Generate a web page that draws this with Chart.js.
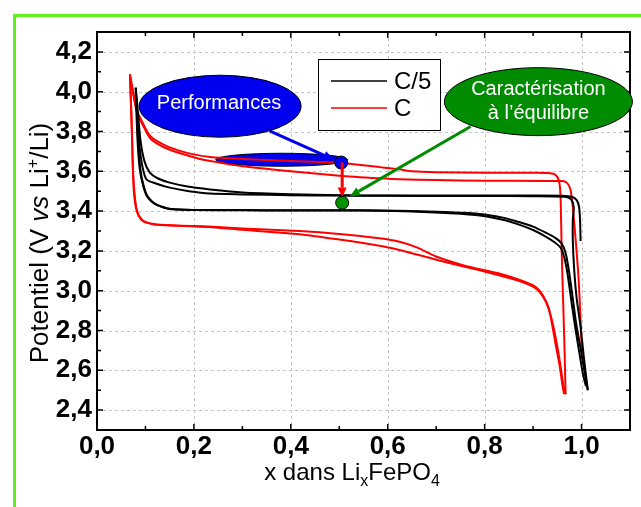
<!DOCTYPE html>
<html>
<head>
<meta charset="utf-8">
<script src="https://cdn.jsdelivr.net/npm/chart.js@4.4.0/dist/chart.umd.min.js"></script>
<style>
html, body { margin: 0; padding: 0; background: #fff; }
canvas { display: block; }
</style>
</head>
<body>
<canvas id="cv" width="641" height="507"></canvas>
<script>
// axes
var xTicks = [0, 0.2, 0.4, 0.6, 0.8, 1.0];
var yTicks = [2.4, 2.6, 2.8, 3.0, 3.2, 3.4, 3.6, 3.8, 4.0, 4.2];
var seriesNames = ['C/5', 'C'];
var seriesColors = ['#000000', '#ff0000'];

// C/5 : decharges puis charges  [x, V]
var c5Discharge1 = [[0.080,4.02],[0.082,3.85],[0.085,3.70],[0.089,3.60],[0.095,3.53],[0.102,3.48],[0.112,3.45],[0.123,3.432],[0.15,3.412],[0.2,3.406],[0.3,3.405],[0.4,3.404],[0.5,3.404],[0.583,3.403],[0.65,3.40],[0.72,3.395],[0.79,3.386],[0.84,3.366],[0.871,3.345],[0.9,3.322],[0.926,3.292],[0.945,3.267],[0.958,3.24],[0.967,3.19],[0.974,3.10],[0.982,2.96],[0.988,2.85],[0.995,2.75],[1.001,2.67],[1.007,2.58],[1.013,2.50]];
var c5Discharge2 = [[0.080,4.02],[0.083,3.85],[0.086,3.70],[0.090,3.60],[0.096,3.53],[0.103,3.48],[0.113,3.45],[0.125,3.43],[0.15,3.41],[0.2,3.405],[0.3,3.404],[0.4,3.403],[0.5,3.403],[0.583,3.402],[0.65,3.398],[0.72,3.39],[0.79,3.378],[0.84,3.355],[0.871,3.332],[0.9,3.305],[0.926,3.272],[0.945,3.242],[0.958,3.212],[0.966,3.15],[0.972,3.07],[0.98,2.93],[0.988,2.80],[0.996,2.68],[1.003,2.58],[1.009,2.52]];
var c5Charge1 = [[0.998,3.25],[0.997,3.35],[0.995,3.42],[0.99,3.455],[0.98,3.472],[0.96,3.477],[0.9,3.478],[0.8,3.478],[0.7,3.478],[0.6,3.478],[0.5,3.48],[0.4,3.485],[0.3,3.494],[0.233,3.509],[0.19,3.522],[0.15,3.543],[0.125,3.565],[0.109,3.593],[0.098,3.65],[0.09,3.75],[0.085,3.88],[0.080,4.02]];
var c5Charge2 = [[1.013,2.50],[1.005,2.66],[0.998,2.82],[0.99,2.96],[0.985,3.10],[0.982,3.25],[0.982,3.36],[0.984,3.42],[0.978,3.46],[0.965,3.472],[0.9,3.475],[0.8,3.476],[0.7,3.476],[0.6,3.477],[0.5,3.478],[0.4,3.48],[0.3,3.484],[0.233,3.488],[0.19,3.50],[0.15,3.518],[0.12,3.54],[0.102,3.56],[0.094,3.62],[0.088,3.72],[0.084,3.86],[0.080,4.0]];

// C : decharges puis charges
var cDischarge1 = [[0.068,4.088],[0.070,3.95],[0.072,3.80],[0.074,3.62],[0.076,3.50],[0.080,3.42],[0.086,3.375],[0.095,3.35],[0.11,3.338],[0.123,3.333],[0.17,3.327],[0.23,3.322],[0.3,3.313],[0.418,3.3],[0.5,3.285],[0.583,3.263],[0.624,3.246],[0.66,3.218],[0.7,3.172],[0.75,3.132],[0.79,3.108],[0.83,3.086],[0.87,3.056],[0.905,3.02],[0.922,2.97],[0.933,2.905],[0.946,2.737],[0.955,2.62],[0.96,2.535],[0.964,2.48]];
var cDischarge2 = [[0.068,4.08],[0.070,3.95],[0.072,3.80],[0.074,3.62],[0.077,3.50],[0.081,3.42],[0.087,3.375],[0.096,3.35],[0.11,3.337],[0.123,3.332],[0.17,3.326],[0.23,3.32],[0.3,3.306],[0.418,3.284],[0.5,3.257],[0.583,3.226],[0.624,3.205],[0.66,3.182],[0.706,3.152],[0.79,3.102],[0.87,3.05],[0.905,3.012],[0.925,2.95],[0.938,2.86],[0.95,2.72],[0.958,2.60],[0.962,2.53],[0.967,2.48]];
var cCharge1 = [[0.967,2.48],[0.965,2.70],[0.962,2.95],[0.959,3.20],[0.957,3.45],[0.955,3.53],[0.95,3.572],[0.94,3.589],[0.9,3.593],[0.8,3.593],[0.7,3.595],[0.65,3.60],[0.624,3.61],[0.583,3.621],[0.5,3.643],[0.4,3.652],[0.3,3.662],[0.233,3.672],[0.19,3.69],[0.15,3.72],[0.125,3.75],[0.109,3.78],[0.095,3.84],[0.082,3.91],[0.068,4.088]];
var cCharge2 = [[1.001,2.656],[0.998,2.85],[0.994,3.056],[0.988,3.25],[0.982,3.42],[0.977,3.51],[0.97,3.542],[0.96,3.551],[0.8,3.553],[0.7,3.556],[0.624,3.56],[0.583,3.565],[0.5,3.578],[0.4,3.60],[0.3,3.625],[0.233,3.652],[0.212,3.662],[0.15,3.708],[0.125,3.738],[0.109,3.768],[0.095,3.83],[0.082,3.90],[0.068,4.08]];

var FONT = "'Liberation Sans', Arial, sans-serif";

function pts(a) { return a.map(function (p) { return {x: p[0], y: p[1]}; }); }
function fmt(v) { return v.toFixed(1).replace('.', ','); }
function ds(data, i) {
  return {label: seriesNames[i], data: pts(data), showLine: true, borderColor: seriesColors[i],
    borderWidth: 2, pointRadius: 0, tension: 0.25, fill: false};
}

function arrow(ctx, x1, y1, x2, y2, color) {
  var a = Math.atan2(y2 - y1, x2 - x1), L = 10, W = 4.5;
  ctx.strokeStyle = color; ctx.fillStyle = color; ctx.lineWidth = 3;
  ctx.beginPath(); ctx.moveTo(x1, y1);
  ctx.lineTo(x2 - L * Math.cos(a), y2 - L * Math.sin(a)); ctx.stroke();
  ctx.beginPath(); ctx.moveTo(x2, y2);
  ctx.lineTo(x2 - L * Math.cos(a) + W * Math.sin(a), y2 - L * Math.sin(a) - W * Math.cos(a));
  ctx.lineTo(x2 - L * Math.cos(a) - W * Math.sin(a), y2 - L * Math.sin(a) + W * Math.cos(a));
  ctx.closePath(); ctx.fill();
}
function ellipse(ctx, cx, cy, rx, ry, fill) {
  ctx.beginPath(); ctx.ellipse(cx, cy, rx, ry, 0, 0, Math.PI * 2);
  ctx.fillStyle = fill; ctx.fill();
  ctx.lineWidth = 1; ctx.strokeStyle = '#000'; ctx.stroke();
}
function runs(ctx, parts, x, y) {
  parts.forEach(function (p) {
    ctx.font = p[1]; ctx.fillText(p[0], x, y + (p[2] || 0));
    x += ctx.measureText(p[0]).width;
  });
}
function runsWidth(ctx, parts) {
  var w = 0;
  parts.forEach(function (p) { ctx.font = p[1]; w += ctx.measureText(p[0]).width; });
  return w;
}

var decor = {
  id: 'decor',
  beforeDraw: function (chart) {
    var ctx = chart.ctx;
    ctx.save();
    ctx.fillStyle = '#fff'; ctx.fillRect(0, 0, chart.width, chart.height);
    ctx.fillStyle = '#5ef01c';
    ctx.fillRect(13, 14, 3, chart.height - 14);
    ctx.fillRect(13, 14, chart.width - 13, 3);
    ctx.restore();
  },
  beforeDatasetsDraw: function (chart) {
    var ctx = chart.ctx, a = chart.chartArea, sx = chart.scales.x, sy = chart.scales.y;
    ctx.save();
    ctx.strokeStyle = '#c4c4c4'; ctx.lineWidth = 1; ctx.setLineDash([3, 3]);
    xTicks.forEach(function (v) {
      var p = Math.round(sx.getPixelForValue(v)) + 0.5;
      ctx.beginPath(); ctx.moveTo(p, a.top); ctx.lineTo(p, a.bottom); ctx.stroke();
    });
    yTicks.forEach(function (v) {
      var p = Math.round(sy.getPixelForValue(v)) + 0.5;
      ctx.beginPath(); ctx.moveTo(a.left, p); ctx.lineTo(a.right, p); ctx.stroke();
    });
    ctx.setLineDash([]);
    // zone "Performances" sur le plateau de charge
    ellipse(ctx, sx.getPixelForValue(0.381), sy.getPixelForValue(3.658), 66, 6.5, '#0000ee');
    ctx.restore();
  },
  afterDatasetsDraw: function (chart) {
    var ctx = chart.ctx, a = chart.chartArea, sx = chart.scales.x, sy = chart.scales.y;
    ctx.save();
    // cadre et graduations intérieures
    ctx.strokeStyle = '#000'; ctx.lineWidth = 2;
    ctx.strokeRect(a.left, a.top, a.right - a.left, a.bottom - a.top);
    ctx.lineWidth = 1.5;
    for (var i = 0; i <= 11; i++) {
      var v = i / 10, px = sx.getPixelForValue(v), len = (i % 2 === 0) ? 6 : 4;
      ctx.beginPath();
      ctx.moveTo(px, a.bottom); ctx.lineTo(px, a.bottom - len);
      ctx.moveTo(px, a.top); ctx.lineTo(px, a.top + len);
      ctx.stroke();
    }
    for (var j = 23; j <= 43; j++) {
      var w = j / 10, py = sy.getPixelForValue(w), l2 = (j % 2 === 0) ? 6 : 4;
      ctx.beginPath();
      ctx.moveTo(a.left, py); ctx.lineTo(a.left + l2, py);
      ctx.moveTo(a.right, py); ctx.lineTo(a.right - l2, py);
      ctx.stroke();
    }

    // annotations
    var bx = sx.getPixelForValue(0.506);
    ellipse(ctx, sx.getPixelForValue(0.504), sy.getPixelForValue(3.644), 6.5, 6.5, '#0000ee');
    arrow(ctx, bx, sy.getPixelForValue(3.645), bx, sy.getPixelForValue(3.468), '#ff0000');
    ellipse(ctx, bx, sy.getPixelForValue(3.442), 6.5, 6.5, '#009000');
    arrow(ctx, sx.getPixelForValue(0.356), sy.getPixelForValue(3.803), sx.getPixelForValue(0.488), sy.getPixelForValue(3.66), '#0000ee');
    arrow(ctx, sx.getPixelForValue(0.771), sy.getPixelForValue(3.825), sx.getPixelForValue(0.522), sy.getPixelForValue(3.474), '#008c00');

    var pcx = sx.getPixelForValue(0.254), pcy = sy.getPixelForValue(3.927);
    ellipse(ctx, pcx, pcy, 81, 31, '#0000ee');
    var gcx = sx.getPixelForValue(0.911), gcy = sy.getPixelForValue(3.95);
    ellipse(ctx, gcx, gcy, 94, 34, '#008c00');
    ctx.fillStyle = '#fff'; ctx.textAlign = 'center'; ctx.textBaseline = 'middle';
    ctx.font = '20px ' + FONT;
    ctx.fillText('Performances', pcx - 1, pcy - 3);
    ctx.fillText('Caractérisation', gcx, gcy - 12);
    ctx.fillText('à l\u2019équilibre', gcx, gcy + 12);

    // légende
    ctx.fillStyle = '#fff'; ctx.fillRect(318.5, 59.5, 122, 71);
    ctx.strokeStyle = '#000'; ctx.lineWidth = 1; ctx.strokeRect(318.5, 59.5, 122, 71);
    ctx.textAlign = 'left'; ctx.font = '24px ' + FONT;
    seriesNames.forEach(function (n, k) {
      var yy = 81 + k * 27;
      ctx.strokeStyle = seriesColors[k]; ctx.lineWidth = 1.5;
      ctx.beginPath(); ctx.moveTo(331, yy); ctx.lineTo(387, yy); ctx.stroke();
      ctx.fillStyle = '#000'; ctx.fillText(n, 394, yy + 1);
    });

    // titres des axes
    ctx.fillStyle = '#000'; ctx.textBaseline = 'alphabetic';
    var nx = '24px ' + FONT, sxF = '16px ' + FONT;
    var xt = [['x dans Li', nx], ['x', sxF, 6], ['FePO', nx], ['4', sxF, 6]];
    runs(ctx, xt, 352 - runsWidth(ctx, xt) / 2, 480);
    var ny = '26px ' + FONT, sy2 = '16px ' + FONT;
    var yt = [['Potentiel (V ', ny], ['vs', 'italic 26px ' + FONT], [' Li', ny], ['+', sy2, -10], ['/Li)', ny]];
    ctx.translate(48, 243); ctx.rotate(-Math.PI / 2);
    runs(ctx, yt, -runsWidth(ctx, yt) / 2, 0);
    ctx.restore();
  }
};

var tickFont = {family: FONT, size: 26, weight: 'bold'};
new Chart(document.getElementById('cv'), {
  type: 'scatter',
  data: {
    datasets: [
      ds(c5Discharge1, 0), ds(c5Discharge2, 0), ds(c5Charge1, 0), ds(c5Charge2, 0),
      ds(cDischarge1, 1), ds(cDischarge2, 1), ds(cCharge1, 1), ds(cCharge2, 1)
    ]
  },
  options: {
    responsive: false,
    animation: false,
    devicePixelRatio: 1,
    layout: {padding: {left: 0, right: 11, top: 32, bottom: 0}},
    plugins: {legend: {display: false}, tooltip: {enabled: false}},
    scales: {
      x: {
        type: 'linear', min: 0, max: 1.1,
        afterFit: function (s) { s.height = 77; },
        afterBuildTicks: function (s) { s.ticks = xTicks.map(function (v) { return {value: v}; }); },
        grid: {display: false, drawTicks: false}, border: {display: false},
        ticks: {font: tickFont, color: '#000', padding: 1, maxRotation: 0, autoSkip: false,
          callback: function (v) { return fmt(v); }}
      },
      y: {
        type: 'linear', min: 2.3, max: 4.3,
        afterFit: function (s) { s.width = 97; },
        afterBuildTicks: function (s) { s.ticks = yTicks.map(function (v) { return {value: v}; }); },
        grid: {display: false, drawTicks: false}, border: {display: false},
        ticks: {font: tickFont, color: '#000', padding: 5, autoSkip: false,
          callback: function (v) { return fmt(v); }}
      }
    }
  },
  plugins: [decor]
});
</script>
</body>
</html>
